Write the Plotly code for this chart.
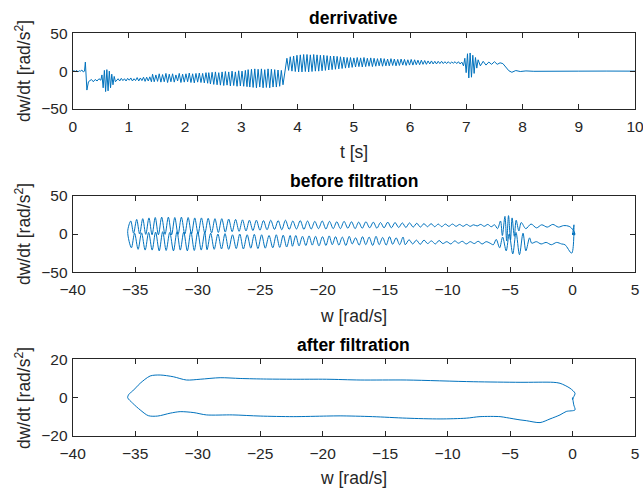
import numpy as np
import plotly.graph_objects as go

# ---------------- data: derivative signal, read as successive extremes ----------------
# each segment: (t_start, t_end) and its successive knot values [rad/s^2]
seg_rest_t = (0.00, 0.21)
seg_rest_v = [0, 0.5, -0.5, 1, -1, 0.5, 0, 1.5, -1, 0]
seg_spike_t = (0.225, 0.28)
seg_spike_v = [12, -25, -14]
seg_settle_t = (0.30, 0.50)
seg_settle_v = [-13, -11, -14, -11, -13, -10, -12]
seg_burst1_t = (0.52, 0.76)
seg_burst1_v = [-5, -22, 1, -27, 2, -26, 0, -22, -4, -18, -7, -14]
seg_low1_t = (0.78, 1.40)
seg_low1_v = [-12, -10, -13, -9.5, -12.5, -10, -13, -9.5, -12, -9, -13, -10,
              -12.5, -8.5, -13, -9, -12.5, -8, -13.5, -8, -13, -7.5, -14]
seg_low2_t = (1.42, 2.40)
seg_low2_v = [-4, -14, -5, -13.5, -3.5, -14.5, -4.5, -14, -3, -15, -4, -14, -3.5, -14.5,
              -5, -13, -3, -15, -4, -14.5, -3.5, -14, -2.5, -15, -3.5, -15.5, -3, -14.5,
              -2.5, -15, -3, -15.5, -2, -16]
seg_low3_t = (2.42, 3.10)
seg_low3_v = [-2, -17, -1.5, -17.5, -1, -18, -2, -18.5, -1, -19, -0.5, -18.5, -1, -19.5,
              0, -19, -1, -20, 0.5, -19.5, 0, -20, 1, -20.5]
seg_low4_t = (3.12, 3.74)
seg_low4_v = [2, -21, 2.5, -21.5, 3, -22, 2.5, -21, 3, -22, 2, -21.5, 3, -22, 2.5, -21,
              2, -21, 1.5, -20, 1, -18]
seg_up1_t = (3.78, 5.00)
seg_up1_v = [3, 17, 1, 19, 0, 20, -0.5, 21, -1, 21.5, -1, 22, -0.5, 22, -1, 21.5, -0.5, 22,
             0, 21.5, 0, 21, 0.5, 21, 1, 20.5, 1.5, 20, 2, 20, 2.5, 19.5, 3, 19, 3.5, 18.5,
             4, 18, 4.5, 18, 5, 17.5]
seg_up2_t = (5.03, 6.20)
seg_up2_v = [5.5, 18, 6, 17.5, 5.5, 18, 6, 17, 6.5, 17.5, 6, 17, 6.5, 16.5, 7, 17, 6.5, 16.5,
             7, 16, 7, 16.5, 7.5, 16, 7, 15.5, 7.5, 16, 8, 15.5, 7.5, 15, 8, 15.5, 8, 15,
             8.5, 14.5, 8.5, 14.5]
seg_up3_t = (6.23, 6.92)
seg_up3_v = [9, 14, 9, 13.5, 9.5, 13.5, 9.5, 13, 9.5, 13, 10, 13, 10, 12.5, 10, 12.5,
             10, 12, 10.5, 12.5, 10, 12.5, 9.5, 12]
seg_burst2_t = (6.95, 7.21)
seg_burst2_v = [7, 17, -2, 23, -9, 24, -8, 21, -3, 18, 4, 15]
seg_damp_t = (7.25, 7.60)
seg_damp_v = [7, 13, 8, 12, 9, 12.5, 9, 11]
seg_stop_t = (7.65, 7.81)
seg_stop_v = [10, 5, 0.5, -1.5]
seg_tail_t = [7.88, 7.96, 8.06, 8.2, 8.5, 9.0, 9.5, 10.0]
seg_tail_v = [0.8, -0.5, 0.3, -0.2, 0.1, 0, 0.1, 0]

# read extent of the unfiltered phase curve (w axis)
w_min_read = -35.6
w_end_read = 0.2

# ---------------- data: filtered phase curve (w, dw/dt) ----------------
filt_w = [0.0, 0.1, 0.2, -0.5, -1.0, -1.8, -2.6, -3.7, -4.2, -5.3, -5.8, -7.4, -8.5, -10.6,
          -13.3, -16.0, -18.6, -19.7, -22.35, -25.0, -27.2, -29.3, -30.3, -31.4, -32.2,
          -33.2, -33.95, -34.6, -35.2, -35.6, -35.5, -35.2, -34.9, -34.6, -33.8, -33.0,
          -31.95, -30.9, -29.8, -28.2, -26.6, -24.5, -22.4, -19.7, -17.0, -13.3, -7.95,
          -4.2, -1.55, -1.0, -0.2, 0.2, 0.1, 0.0, 0.0]
filt_d = [0.0, -3.8, -6.4, -7.2, -9.0, -11.1, -13.0, -12.0, -11.6, -10.4, -9.9, -9.9, -10.7,
          -11.1, -10.7, -9.9, -9.5, -9.6, -9.9, -9.6, -9.0, -9.0, -7.8, -7.3, -8.1, -9.6,
          -9.4, -6.4, -2.9, 0.0, 1.8, 3.5, 5.5, 7.5, 11.3, 11.8, 10.9, 9.2, 9.6, 10.4, 10.0,
          9.7, 9.6, 9.6, 9.2, 9.2, 8.3, 8.0, 8.0, 7.5, 4.9, 2.3, 0.5, -1.0, 0.0]

# ---------------- assemble derivative samples ----------------
segments = [(seg_rest_t, seg_rest_v), (seg_spike_t, seg_spike_v), (seg_settle_t, seg_settle_v),
            (seg_burst1_t, seg_burst1_v), (seg_low1_t, seg_low1_v), (seg_low2_t, seg_low2_v),
            (seg_low3_t, seg_low3_v), (seg_low4_t, seg_low4_v), (seg_up1_t, seg_up1_v),
            (seg_up2_t, seg_up2_v), (seg_up3_t, seg_up3_v), (seg_burst2_t, seg_burst2_v),
            (seg_damp_t, seg_damp_v), (seg_stop_t, seg_stop_v)]
t_list, d_list = [], []
for (a, b), vals in segments:
    t_list.extend(np.linspace(a, b, len(vals)))
    d_list.extend(vals)
t_list.extend(seg_tail_t)
d_list.extend(seg_tail_v)
t = np.array(t_list)
d = np.array(d_list)

# w from the derivative (cumulative trapezoid), fitted to the read w extent per branch
cum = np.concatenate([[0.0], np.cumsum(0.5 * (d[1:] + d[:-1]) * np.diff(t))])
i_min = int(np.argmin(cum))
w = np.empty_like(cum)
w[:i_min + 1] = cum[:i_min + 1] * (w_min_read / cum[i_min])
w[i_min + 1:] = w_min_read + (cum[i_min + 1:] - cum[i_min]) * (
    (w_end_read - w_min_read) / (cum[-1] - cum[i_min]))

# ---------------- figure ----------------
W, H = 643, 491
BLUE = '#0072BD'
AX = '#262626'
FONT = 'Arial, Liberation Sans, Helvetica, sans-serif'

x_dom = [72.7 / W, 635.0 / W]
y_doms = [
    [1 - 109.0 / H, 1 - 33.3 / H],
    [1 - 272.3 / H, 1 - 195.7 / H],
    [1 - 436.0 / H, 1 - 359.3 / H],
]

fig = go.Figure()
fig.add_trace(go.Scatter(x=t, y=d, mode='lines', line=dict(color=BLUE, width=1),
                         xaxis='x', yaxis='y', showlegend=False, hoverinfo='skip'))
fig.add_trace(go.Scatter(x=w, y=d, mode='lines', line=dict(color=BLUE, width=1, shape='spline', smoothing=0.9),
                         xaxis='x2', yaxis='y2', showlegend=False, hoverinfo='skip'))
fig.add_trace(go.Scatter(x=filt_w, y=filt_d, mode='lines',
                         line=dict(color=BLUE, width=1, shape='spline', smoothing=0.8),
                         xaxis='x3', yaxis='y3', showlegend=False, hoverinfo='skip'))

def ax_common(standoff):
    return dict(showline=True, linecolor=AX, linewidth=1, mirror='ticks', ticks='inside',
                ticklen=5, tickcolor=AX, tickwidth=1, showgrid=False, zeroline=False,
                automargin=False, ticklabelstandoff=standoff, ticklabeloverflow='allow',
                tickfont=dict(family=FONT, size=15.5, color=AX), fixedrange=True)

layout = dict(width=W, height=H, margin=dict(l=0, r=0, t=0, b=0, autoexpand=False),
              paper_bgcolor='white', plot_bgcolor='white', showlegend=False)
layout['xaxis'] = dict(domain=x_dom, anchor='y', range=[0, 10], tickvals=list(range(0, 11)), **ax_common(3))
layout['yaxis'] = dict(domain=y_doms[0], anchor='x', range=[-50, 50], tickvals=[-50, 0, 50], **ax_common(1))
layout['xaxis2'] = dict(domain=x_dom, anchor='y2', range=[-40, 5], tickvals=list(range(-40, 6, 5)), **ax_common(3))
layout['yaxis2'] = dict(domain=y_doms[1], anchor='x2', range=[-50, 50], tickvals=[-50, 0, 50], **ax_common(1))
layout['xaxis3'] = dict(domain=x_dom, anchor='y3', range=[-40, 5], tickvals=list(range(-40, 6, 5)), **ax_common(3))
layout['yaxis3'] = dict(domain=y_doms[2], anchor='x3', range=[-20, 20], tickvals=[-20, 0, 20], **ax_common(1))
fig.update_layout(**layout)

titles = ['derrivative', 'before filtration', 'after filtration']
xlabels = ['t [s]', 'w [rad/s]', 'w [rad/s]']
title_y = [18, 181, 345]
xlab_y = [152, 316, 478]
ylab_c = [71, 234, 398]
cx = (72.7 + 635.0) / 2 / W
for i in range(3):
    fig.add_annotation(text='<b>%s</b>' % titles[i], x=cx, y=1 - title_y[i] / H, xref='paper', yref='paper',
                       showarrow=False, xanchor='center', yanchor='middle',
                       font=dict(family=FONT, size=17.5, color='black'))
    fig.add_annotation(text=xlabels[i], x=cx, y=1 - xlab_y[i] / H, xref='paper', yref='paper',
                       showarrow=False, xanchor='center', yanchor='middle',
                       font=dict(family=FONT, size=17.5, color=AX))
    fig.add_annotation(text='dw/dt [rad/s<sup>2</sup>]', x=23 / W, y=1 - ylab_c[i] / H,
                       xref='paper', yref='paper', showarrow=False, textangle=-90,
                       xanchor='center', yanchor='middle',
                       font=dict(family=FONT, size=17.5, color=AX))

fig.write_html('out.html')
